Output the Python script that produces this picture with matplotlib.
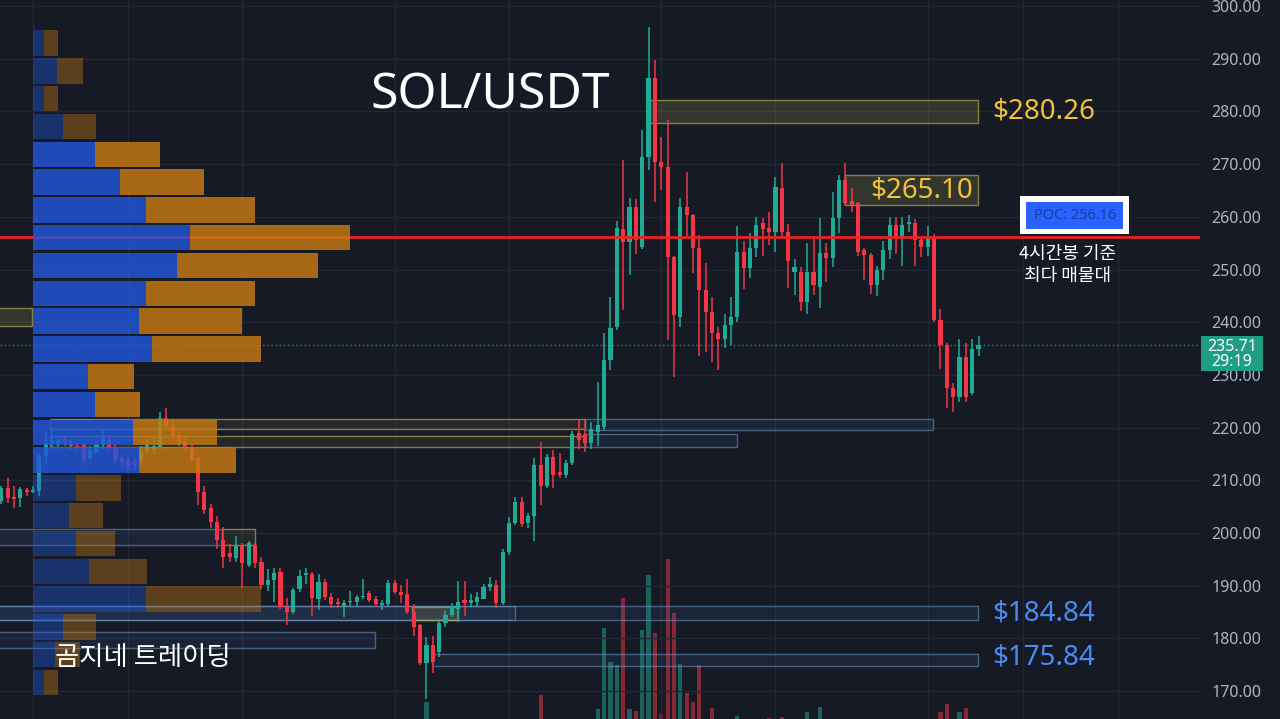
import numpy as np
import matplotlib
matplotlib.use("Agg")
import matplotlib.pyplot as plt
from matplotlib.patches import Rectangle
from matplotlib.transforms import blended_transform_factory

# ---- candle data (4h SOL/USDT) ----
opens = [206.0, 208.5, 206.9, 206.6, 208.2, 207.8, 207.9, 214.6, 217.0, 216.7,
         217.8, 216.9, 216.6, 216.7, 214.2, 215.4, 216.7, 217.7, 216.3, 214.2,
         213.8, 213.5, 213.9, 215.6, 215.8, 216.3, 221.9, 220.3, 218.6, 217.3,
         216.1, 214.2, 207.8, 204.7, 202.1, 198.7, 196.2, 195.2, 197.7, 194.0,
         197.7, 194.5, 190.1, 191.0, 192.6, 186.0, 185.0, 189.4, 192.0, 192.3,
         187.5, 190.7, 187.9, 186.9, 186.2, 186.9, 186.9, 187.8, 188.6, 187.5,
         186.4, 186.5, 190.5, 188.9, 188.4, 185.0, 182.5, 175.3, 178.8, 177.4,
         182.9, 184.4, 185.6, 187.3, 186.8, 186.9, 187.5, 189.8, 190.1, 186.8,
         196.4, 201.9, 205.9, 201.9, 203.2, 212.9, 208.9, 214.4, 211.5, 211.0,
         213.3, 219.0, 218.8, 217.1, 219.2, 220.1, 232.8, 239.1, 257.7, 255.2,
         261.9, 254.3, 271.3, 286.3, 270.4, 269.5, 252.4, 241.0, 261.9, 260.3,
         254.1, 246.1, 241.9, 238.0, 236.8, 239.5, 241.0, 253.3, 250.3, 254.1,
         258.8, 257.9, 257.1, 265.5, 257.1, 249.5, 249.5, 243.8, 249.5, 246.7,
         253.1, 252.2, 259.8, 267.0, 263.0, 262.6, 253.7, 252.8, 247.0, 249.9,
         253.7, 258.4, 255.9, 258.6, 258.8, 255.6, 254.3, 256.2, 240.4, 235.7,
         227.6, 225.8, 233.4, 226.6, 235.0]
highs = [209.0, 210.4, 209.0, 208.8, 208.6, 209.0, 215.0, 219.0, 220.0, 218.5,
         218.4, 217.8, 217.2, 217.2, 216.5, 217.5, 219.5, 218.5, 217.0, 215.0,
         214.5, 214.2, 216.5, 217.8, 218.0, 223.0, 223.8, 221.5, 219.2, 218.0,
         217.0, 214.4, 208.9, 205.5, 203.2, 201.2, 198.0, 199.4, 198.1, 198.4,
         198.1, 195.4, 193.2, 193.3, 193.3, 187.7, 189.6, 193.0, 193.3, 192.6,
         192.2, 191.2, 188.6, 187.7, 187.3, 189.0, 188.2, 191.3, 189.0, 188.0,
         187.2, 191.0, 191.1, 190.1, 191.2, 186.5, 182.8, 180.2, 180.4, 183.7,
         185.2, 186.8, 190.9, 190.9, 188.5, 188.9, 190.3, 191.6, 191.0, 197.0,
         203.1, 206.9, 206.9, 203.8, 214.3, 217.3, 215.0, 215.8, 215.2, 213.8,
         219.3, 221.7, 221.4, 221.0, 228.7, 238.0, 244.8, 259.3, 270.8, 263.6,
         263.4, 276.4, 296.0, 289.8, 275.2, 278.4, 252.6, 263.6, 268.5, 260.5,
         256.5, 251.2, 244.8, 239.0, 241.5, 244.8, 258.2, 255.4, 257.0, 260.0,
         259.7, 261.0, 267.6, 270.3, 258.7, 251.9, 250.5, 255.0, 256.4, 259.8,
         255.0, 264.7, 268.0, 270.2, 265.5, 262.8, 254.0, 253.2, 250.6, 255.4,
         260.0, 260.0, 260.0, 260.4, 259.5, 256.2, 258.2, 256.8, 242.6, 236.0,
         228.5, 236.8, 236.0, 236.8, 237.4]
lows = [205.5, 205.7, 204.7, 205.0, 207.0, 207.5, 207.0, 213.0, 216.0, 216.0,
        216.6, 215.8, 215.6, 213.0, 213.8, 215.0, 216.0, 215.5, 213.2, 212.5,
        211.8, 212.0, 213.0, 214.8, 215.0, 215.8, 219.6, 217.5, 216.6, 215.8,
        213.4, 205.3, 203.6, 200.9, 197.0, 193.3, 194.5, 194.5, 189.6, 193.5,
        193.3, 189.4, 189.0, 187.0, 185.6, 182.6, 184.6, 188.9, 190.3, 184.3,
        185.3, 187.2, 185.8, 185.8, 184.0, 186.0, 186.0, 187.5, 187.0, 185.9,
        185.4, 186.2, 188.5, 186.8, 184.6, 180.5, 175.0, 168.5, 173.5, 176.5,
        182.2, 184.0, 183.2, 184.2, 186.0, 186.0, 187.4, 189.0, 185.8, 186.4,
        195.8, 201.5, 201.1, 200.9, 198.5, 205.3, 208.5, 208.5, 210.5, 210.5,
        213.0, 216.0, 215.4, 216.0, 216.5, 219.5, 231.0, 238.5, 242.3, 249.0,
        253.0, 253.8, 268.8, 262.9, 265.0, 236.6, 229.6, 239.0, 256.4, 249.3,
        233.5, 234.3, 232.4, 231.0, 235.2, 235.7, 240.0, 246.3, 248.4, 252.3,
        252.5, 254.7, 253.4, 256.0, 246.5, 245.1, 242.2, 241.6, 245.2, 242.7,
        247.7, 250.5, 257.0, 262.0, 261.0, 252.5, 248.0, 245.3, 245.0, 248.0,
        252.0, 253.0, 250.6, 257.1, 250.6, 252.3, 252.6, 240.0, 231.2, 223.7,
        222.9, 224.9, 224.9, 226.2, 233.6]
closes = [208.5, 206.6, 206.4, 208.3, 207.8, 208.1, 214.6, 217.0, 217.3, 217.6,
          217.1, 216.6, 216.4, 213.9, 215.7, 216.7, 218.0, 216.3, 213.9, 213.5,
          212.5, 212.9, 215.8, 216.7, 216.5, 221.8, 220.3, 218.3, 217.3, 216.3,
          213.9, 207.8, 204.4, 202.1, 198.7, 195.4, 195.4, 197.7, 194.3, 198.1,
          194.3, 190.1, 191.0, 192.5, 186.0, 185.0, 189.2, 191.8, 192.5, 187.7,
          190.7, 187.9, 186.6, 186.5, 186.8, 187.1, 187.9, 188.0, 187.3, 186.5,
          186.7, 190.5, 188.8, 188.3, 185.0, 182.2, 175.3, 178.8, 175.5, 182.9,
          184.5, 186.1, 187.0, 186.8, 187.3, 187.9, 189.8, 190.3, 186.8, 196.4,
          201.9, 205.9, 201.7, 203.2, 212.9, 208.9, 214.4, 211.0, 211.1, 213.3,
          218.8, 217.6, 217.1, 219.7, 220.5, 232.8, 238.9, 257.9, 255.2, 261.9,
          255.6, 271.3, 286.3, 270.4, 269.5, 252.4, 241.4, 261.9, 260.3, 254.1,
          246.1, 241.9, 238.0, 236.8, 239.5, 241.0, 253.3, 250.3, 254.1, 258.4,
          257.7, 257.1, 265.7, 257.1, 251.6, 250.5, 243.8, 249.5, 247.0, 253.1,
          252.2, 259.8, 267.0, 262.6, 262.2, 253.3, 252.8, 247.0, 249.9, 253.7,
          258.4, 256.0, 258.4, 259.0, 255.6, 254.3, 256.0, 240.4, 235.7, 227.5,
          225.8, 233.4, 225.8, 234.9, 235.71]

# volume (only the bars that reach into the visible pane, arbitrary units)
volume = np.zeros(len(opens))
vol_idx = [67, 85, 94, 95, 96, 97, 98, 99, 100, 101, 102, 103, 104, 105, 106,
           107, 108, 109, 110, 112, 116, 121, 123, 127, 129, 148, 149, 151, 152]
vol_val = [17, 24, 10, 91, 57, 54, 121, 10, 8, 89, 144, 86, 5, 160, 106,
           55, 26, 17, 54, 11, 3, 1, 2, 7, 12, 7, 15, 7, 11]
volume[vol_idx] = vol_val

# volume profile (24 rows from the top), buy / sell volume
vp_top, vp_bin = 295.6, 5.275
vp_buy = [11, 24, 11, 30, 62, 87, 113, 157, 144, 113, 106, 119,
          55, 62, 100, 106, 43, 36, 43, 56, 113, 30, 22, 11]
vp_sell = [14, 26, 14, 33, 65, 84, 109, 160, 141, 109, 103, 109,
           46, 45, 84, 97, 45, 34, 39, 58, 115, 33, 25, 14]
vp_in_value_area = [False] * 4 + [True] * 12 + [False] * 8

poc = 256.16
last_price = 235.71
yticks = np.arange(170, 301, 10)
vgrid = [5, 20, 38, 62, 80, 104, 122, 146, 161, 176]

# ---- style ----
bg = '#161a25'
grid_c = '#232733'
up_c = '#22ab94'
dn_c = '#f23645'
gold = '#f3c13a'
blue_txt = '#4a8cf7'
kr = ['Noto Sans CJK KR', 'DejaVu Sans']

plt.rcParams['font.family'] = ['Noto Sans', 'Noto Sans CJK KR', 'DejaVu Sans']

fig = plt.figure(figsize=(12.8, 7.19), dpi=100, facecolor=bg)
rect = [0, 0, 1200 / 1280, 1]
xlim = (-0.2, 188.9)
ylim = (164.71, 301.14)

ax_vol = fig.add_axes(rect, zorder=0)
ax_vol.set_facecolor(bg)
ax = fig.add_axes(rect, zorder=1)
ax.patch.set_visible(False)

x = np.arange(len(opens))
o = np.array(opens)
h = np.array(highs)
l = np.array(lows)
c = np.array(closes)
cols = np.where(c >= o, up_c, dn_c)

# volume bars
ax_vol.bar(x, volume, width=0.65, color=cols, alpha=0.5, linewidth=0)
ax_vol.set_xlim(*xlim)
ax_vol.set_ylim(0, 719)
ax_vol.axis('off')

# grid
for p in yticks:
    ax.axhline(p, color=grid_c, lw=1, zorder=0)
for g in vgrid:
    ax.axvline(g, color=grid_c, lw=1, zorder=0)

# zones
def zone(x0, x1, y0, y1, kind):
    if kind == 'y':
        fc, ec = (0.55, 0.55, 0.25, 0.13), (0.78, 0.74, 0.3, 0.6)
    elif kind == 'o':
        fc, ec = (0.55, 0.55, 0.3, 0.25), (0.78, 0.74, 0.3, 0.6)
    else:
        fc, ec = (0.25, 0.45, 0.7, 0.12), (0.45, 0.6, 0.78, 0.55)
    ax.add_patch(Rectangle((x0, y0), x1 - x0, y1 - y0, facecolor=fc,
                           edgecolor=ec, lw=1, zorder=1))

zone(102.2, 153.9, 277.8, 282.2, 'o')
zone(133.0, 153.9, 262.2, 267.9, 'o')
zone(-1, 4.8, 239.3, 242.7, 'o')
zone(7.7, 92.0, 219.7, 221.6, 'y')
zone(7.7, 92.0, 216.4, 218.5, 'y')
zone(92.0, 146.8, 219.5, 221.6, 'b')
zone(92.0, 115.9, 216.3, 218.7, 'b')
zone(-1, 34.8, 197.7, 200.8, 'b')
zone(34.8, 40.0, 197.7, 200.8, 'y')
zone(-1, 81.0, 183.5, 186.2, 'b')
zone(-1, 153.9, 183.5, 186.2, 'b')
zone(64.7, 72.0, 183.5, 185.9, 'o')
zone(-1, 58.9, 178.2, 181.2, 'b')
zone(67.9, 153.9, 174.8, 177.0, 'b')

# last price line
ax.axhline(last_price, color=up_c, lw=1, ls=(0, (1, 2)), alpha=0.8, zorder=1)

# candles
ax.vlines(x, l, h, colors=cols, lw=1.1, zorder=2)
ax.bar(x, np.maximum(np.abs(c - o), 0.18), bottom=np.minimum(o, c),
       width=0.65, color=cols, linewidth=0, zorder=2.5)

# POC line
ax.axhline(poc, color='#e8221f', lw=2, zorder=3)

# volume profile
scale = 1 / 6.345
rows = np.arange(len(vp_buy))
centers = vp_top - vp_bin * (rows + 0.5)
buy_w = np.array(vp_buy) * scale
sell_w = np.array(vp_sell) * scale
alpha = np.where(vp_in_value_area, 0.82, 0.4)
blue_rgba = [(0.13, 0.34, 0.85, a) for a in alpha]
orng_rgba = [(0.78, 0.48, 0.07, a) for a in alpha]
ax.barh(centers, buy_w, left=5.0, height=vp_bin * 0.92, color=blue_rgba,
        linewidth=0, zorder=4)
ax.barh(centers, sell_w, left=5.0 + buy_w, height=vp_bin * 0.92,
        color=orng_rgba, linewidth=0, zorder=4)

# texts
ax.text(77.0, 283.0, 'SOL/USDT', color='white', fontsize=36,
        fontweight='medium', ha='center', va='center', zorder=6)
ax.text(8.5, 176.4, '곰지네 트레이딩', color='white', fontsize=19,
        family=kr, fontweight='medium', ha='left', va='center', zorder=6)
ax.text(156.1, 280.0, '$280.26', color=gold, fontsize=20, fontweight='medium',
        ha='left', va='center', zorder=6)
ax.text(153.1, 265.0, '$265.10', color=gold, fontsize=20, fontweight='medium',
        ha='right', va='center', zorder=6)
ax.text(156.1, 184.7, '$184.84', color=blue_txt, fontsize=20,
        fontweight='medium', ha='left', va='center', zorder=6)
ax.text(156.1, 176.3, '$175.84', color=blue_txt, fontsize=20,
        fontweight='medium', ha='left', va='center', zorder=6)

# POC label
ax.add_patch(Rectangle((160.55, 256.74), 17.15, 7.21, facecolor='white',
                       edgecolor='none', zorder=6))
ax.add_patch(Rectangle((161.5, 257.7), 15.3, 5.1, facecolor='#2962ff',
                       edgecolor='none', zorder=7))
ax.text(169.15, 260.2, 'POC: 256.16', color='#1b3f9e', fontsize=10.5,
        ha='center', va='center', zorder=8)
ax.text(168.1, 252.9, '4시간봉 기준', color='white', fontsize=13,
        family=kr, fontweight='medium', ha='center', va='center', zorder=6)
ax.text(168.1, 248.8, '최다 매물대', color='white', fontsize=13,
        family=kr, fontweight='medium', ha='center', va='center', zorder=6)

# axes
ax.set_xlim(*xlim)
ax.set_ylim(*ylim)
for s in ax.spines.values():
    s.set_visible(False)
ax.set_xticks([])
ax.yaxis.tick_right()
ax.set_yticks(yticks)
ax.set_yticklabels([f'{v:.2f}' for v in yticks])
ax.tick_params(axis='y', length=0, pad=8, colors='#b2b5be', labelsize=11.5)

# current price tag on the price scale
tr = blended_transform_factory(fig.transFigure, ax.transData)
ax.add_patch(Rectangle((1201 / 1280, 230.74), 62 / 1280, 6.64,
                       facecolor='#1f9d85', edgecolor='none', transform=tr,
                       clip_on=False, zorder=9))
ax.text(1232 / 1280, 235.3, f'{last_price:.2f}', color='white', fontsize=11.5,
        ha='center', va='center', transform=tr, clip_on=False, zorder=10)
ax.text(1232 / 1280, 232.5, '29:19', color='white', fontsize=11.5,
        ha='center', va='center', transform=tr, clip_on=False, zorder=10)

fig.savefig('out.png', dpi=100, facecolor=bg)
